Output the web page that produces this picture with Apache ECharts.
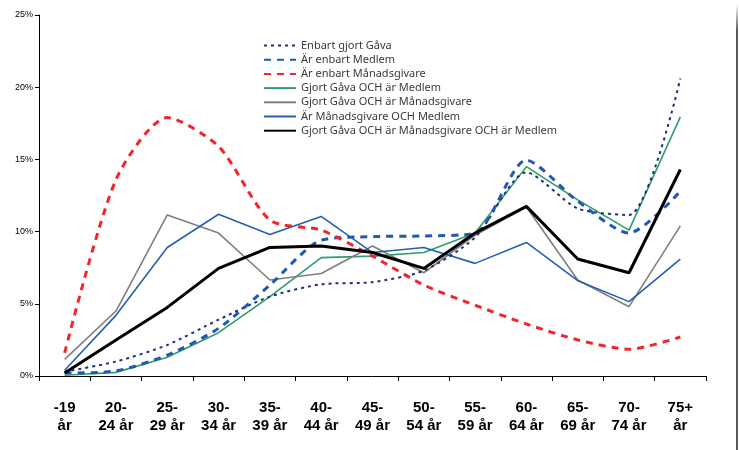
<!DOCTYPE html>
<html><head><meta charset="utf-8">
<script src="https://cdn.jsdelivr.net/npm/echarts@6/dist/echarts.min.js"></script>
<style>html,body{margin:0;padding:0;background:#fff}#c{width:739px;height:450px}</style>
</head><body><div id="c"></div>
<script>
const categories = ['-19\når','20-\n24 år','25-\n29 år','30-\n34 år','35-\n39 år','40-\n44 år','45-\n49 år','50-\n54 år','55-\n59 år','60-\n64 år','65-\n69 år','70-\n74 år','75+\når'];
const enbartGava = [0.3,1.0,2.15,3.9,5.5,6.35,6.5,7.3,9.6,14.1,11.6,11.15,20.6];
const enbartMedlem = [0.2,0.35,1.45,3.3,6.3,9.4,9.65,9.7,9.9,14.95,12.1,9.9,12.8];
const enbartManad = [1.6,13.6,17.9,15.9,10.8,10.1,8.3,6.3,4.9,3.6,2.5,1.85,2.7];
const gavaMedlem = [0.05,0.25,1.3,3.0,5.5,8.2,8.3,8.55,9.9,14.5,12.2,10.1,17.95];
const gavaManad = [1.15,4.5,11.15,9.9,6.65,7.1,9.0,7.15,9.75,11.7,6.65,4.8,10.4];
const manadMedlem = [0.4,4.2,8.9,11.2,9.8,11.05,8.55,8.9,7.8,9.25,6.6,5.15,8.1];
const allaTre = [0.2,2.5,4.75,7.45,8.9,9.0,8.55,7.45,9.9,11.75,8.1,7.15,14.3];
const yTicks = [0,5,10,15,20,25];

const chart = echarts.init(document.getElementById('c'));
function ser(name, data, color, width, type, smooth, z){
  return {name, type:'line', data, symbol:'none', smooth: smooth ? 0.25 : false, z,
    lineStyle:{color, width, type}, itemStyle:{color}};
}
chart.setOption({
  animation:false,
  backgroundColor:'#fff',
  grid:{left:39,right:33,top:15,bottom:74},
  legend:{
    orient:'vertical', left:258, top:35, itemWidth:32, itemHeight:10, itemGap:3.2,
    itemStyle:{opacity:0},
    textStyle:{fontFamily:'Noto Sans', fontSize:11, lineHeight:10, color:'#3a3a3a'},
    data:['Enbart gjort Gåva','Är enbart Medlem','Är enbart Månadsgivare','Gjort Gåva OCH är Medlem','Gjort Gåva OCH är Månadsgivare','Är Månadsgivare OCH Medlem','Gjort Gåva OCH är Månadsgivare OCH är Medlem']
  },
  xAxis:{type:'category', data:categories, boundaryGap:true,
    axisLine:{lineStyle:{color:'#000', width:1}},
    axisTick:{show:true, alignWithLabel:false, length:5, lineStyle:{color:'#000'}},
    axisLabel:{interval:0, margin:23, fontFamily:'Liberation Sans Narrow, Arial Narrow, Liberation Sans, Arial', fontWeight:'bold', fontSize:15, lineHeight:18, color:'#000'}
  },
  yAxis:{type:'value', min:0, max:25, interval:5,
    axisLine:{show:true, lineStyle:{color:'#000'}},
    axisTick:{show:true, length:4, lineStyle:{color:'#000'}},
    splitLine:{show:false},
    axisLabel:{formatter:v=>v+'%', fontFamily:'Liberation Sans, Arial', fontSize:9, color:'#000', margin:6}
  },
  series:[
    ser('Enbart gjort Gåva', enbartGava, '#1f2f7a', 2, [3,4], true, 3),
    ser('Är enbart Medlem', enbartMedlem, '#2158b0', 3, [7,6], true, 3),
    ser('Är enbart Månadsgivare', enbartManad, '#f0262a', 3, [7,6], true, 3),
    ser('Gjort Gåva OCH är Medlem', gavaMedlem, '#2e9e68', 1.6, 'solid', false, 2),
    ser('Gjort Gåva OCH är Månadsgivare', gavaManad, '#7f7f7f', 1.6, 'solid', false, 2),
    ser('Är Månadsgivare OCH Medlem', manadMedlem, '#2560b0', 1.6, 'solid', false, 2),
    ser('Gjort Gåva OCH är Månadsgivare OCH är Medlem', allaTre, '#000000', 3, 'solid', false, 4)
  ],
  graphic:[{type:'rect', shape:{x:736, y:4, width:2, height:446}, silent:true,
    style:{fill:new echarts.graphic.LinearGradient(0,0,0,1,[{offset:0,color:'#ffffff'},{offset:0.06,color:'#5a5a5a'},{offset:1,color:'#5a5a5a'}])}}]
});
</script></body></html>
